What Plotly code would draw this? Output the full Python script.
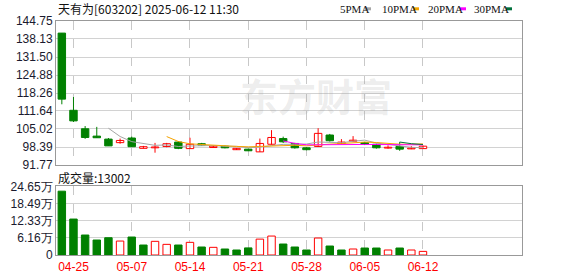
import plotly.graph_objects as go

# ---------------- data ----------------
dates = ["04-24", "04-25", "04-28", "04-29", "04-30", "05-06", "05-07", "05-08",
         "05-09", "05-12", "05-13", "05-14", "05-15", "05-16", "05-19", "05-20",
         "05-21", "05-22", "05-23", "05-26", "05-27", "05-28", "05-29", "05-30",
         "06-03", "06-04", "06-05", "06-06", "06-09", "06-10", "06-11", "06-12"]
opens = [140.3, 111.9, 105.1, 102.4, 101.3, 100.0, 101.7, 97.9,
         98.1, 98.6, 100.2, 97.8, 99.6, 98.2, 98.7, 97.4,
         97.6, 96.6, 99.4, 101.5, 99.7, 98.1, 98.6, 102.8,
         99.6, 100.5, 100.0, 99.4, 98.0, 98.6, 97.7, 97.8]
highs = [140.3, 116.8, 106.1, 105.8, 101.7, 101.5, 102.2, 98.8,
         99.9, 99.9, 100.6, 101.8, 99.9, 98.9, 98.9, 98.0,
         97.7, 101.5, 104.6, 102.2, 99.9, 98.3, 105.3, 103.2,
         101.3, 102.4, 100.3, 99.6, 99.0, 100.2, 98.7, 98.9]
lows = [114.1, 107.6, 101.4, 101.7, 98.8, 99.6, 98.4, 97.9,
        96.3, 98.3, 97.6, 97.8, 98.8, 98.1, 97.9, 97.3,
        96.9, 96.6, 99.3, 99.9, 97.8, 97.2, 98.4, 100.4,
        99.5, 100.4, 99.1, 97.8, 97.8, 97.0, 97.6, 97.8]
closes = [116.0, 108.0, 101.9, 101.8, 98.8, 100.8, 98.5, 98.5,
          98.4, 99.6, 97.9, 99.4, 99.1, 98.7, 98.1, 97.9,
          97.0, 99.7, 101.9, 100.3, 98.1, 97.4, 103.4, 100.7,
          100.2, 100.9, 99.4, 98.1, 98.3, 97.6, 98.0, 98.7]
volumes = [229000, 129000, 71700, 53700, 62000, 50000, 64500, 35800,
           49000, 38200, 35800, 45400, 28700, 27500, 21500, 17900,
           25500, 57000, 68000, 39400, 28700, 17900, 60900, 32200,
           17900, 21500, 25000, 25000, 17900, 25000, 17900, 13002]
vol_up = [0, 0, 0, 0, 0, 1, 0, 0, 1, 1, 0, 1, 0, 1, 0, 0,
          0, 1, 1, 0, 0, 0, 1, 0, 0, 1, 0, 0, 1, 0, 1, 1]

price_ticks = [91.77, 98.39, 105.02, 111.64, 118.26, 124.88, 131.50, 138.13, 144.75]
vol_ticks = [0, 61625, 123250, 184875, 246500]
vol_tick_labels = ["0", "6.16万", "12.33万", "18.49万", "24.65万"]
date_ticks = ["04-25", "05-07", "05-14", "05-21", "05-28", "06-05", "06-12"]

ma_periods = [5, 10, 20, 30]
ma_names = ["5PMA", "10PMA", "20PMA", "30PMA"]
ma_colors = ["#a6a6a6", "#f5a300", "#ff00ff", "#00703c"]

title_text = "天有为[603202] 2025-06-12 11:30"
vol_label = "成交量:13002"
watermark = "东方财富"
n_slots = 40

# ---------------- styling ----------------
RED = "#ff0000"
GREEN = "#008000"
W, H = 578, 276
ML, MR, MT, MB = 56, 56, 21, 21
PW, PH = W - ML - MR, H - MT - MB


def px(x):
    return (x - ML) / PW


def py(y):
    return (H - MB - y) / PH


xs = list(range(len(dates)))
up = [c >= o for o, c in zip(opens, closes)]

fig = go.Figure()

# wicks
for flag, col in [(True, RED), (False, GREEN)]:
    wx, wy = [], []
    for i in xs:
        if up[i] == flag:
            wx += [i, i, None]
            wy += [lows[i], highs[i], None]
    fig.add_trace(go.Scatter(x=wx, y=wy, mode="lines", line=dict(color=col, width=1),
                             xaxis="x2", yaxis="y2", hoverinfo="skip"))

# bodies
fig.add_trace(go.Bar(
    x=xs,
    base=[min(o, c) for o, c in zip(opens, closes)],
    y=[max(abs(c - o), 0.12) for o, c in zip(opens, closes)],
    width=0.64,
    marker=dict(color=["white" if u else GREEN for u in up],
                line=dict(color=[RED if u else GREEN for u in up], width=1)),
    xaxis="x2", yaxis="y2"))

# moving averages
for p, col in zip(ma_periods, ma_colors):
    mx, my = [], []
    for i in range(p - 1, len(closes)):
        mx.append(i)
        my.append(sum(closes[i - p + 1:i + 1]) / p)
    fig.add_trace(go.Scatter(x=mx, y=my, mode="lines", line=dict(color=col, width=1),
                             xaxis="x2", yaxis="y2", hoverinfo="skip"))

# volume
fig.add_trace(go.Bar(
    x=xs, y=volumes, width=0.64,
    marker=dict(color=["white" if u else GREEN for u in vol_up],
                line=dict(color=[RED if u else GREEN for u in vol_up], width=1)),
    xaxis="x", yaxis="y"))

tickvals_x = [dates.index(d) for d in date_ticks]
axis_common = dict(showline=True, mirror=True, linecolor="#999999", linewidth=1,
                   zeroline=False, ticks="", automargin=False)
font_ticks = dict(family="Liberation Sans, Arial", size=12, color="#1a1a2e")

fig.update_layout(
    width=W, height=H,
    margin=dict(l=ML, r=MR, t=MT, b=MB, autoexpand=False),
    paper_bgcolor="white", plot_bgcolor="white",
    showlegend=False, barmode="overlay",
    xaxis=dict(domain=[0, 1], anchor="y", range=[-0.5, n_slots - 0.5],
               tickvals=tickvals_x, ticktext=date_ticks,
               tickfont=dict(family="Liberation Sans, Arial", size=12, color=RED),
               showgrid=True, gridcolor="#c8c8c8", griddash="dash", gridwidth=1,
               ticklabelstandoff=1, **axis_common),
    xaxis2=dict(domain=[0, 1], anchor="y2", matches="x", range=[-0.5, n_slots - 0.5],
                tickvals=tickvals_x, showticklabels=False,
                showgrid=True, gridcolor="#c8c8c8", griddash="dash", gridwidth=1,
                **axis_common),
    yaxis=dict(domain=[0, (H - MB - 186.3) / PH], range=[vol_ticks[0], vol_ticks[-1]],
               tickvals=vol_ticks, ticktext=vol_tick_labels, tickfont=font_ticks,
               showgrid=True, gridcolor="#d2d2d2", **axis_common),
    yaxis2=dict(domain=[(H - MB - 165) / PH, 1], range=[price_ticks[0], price_ticks[-1]],
                tickvals=price_ticks, ticktext=[f"{v:.2f}" for v in price_ticks],
                tickfont=font_ticks, showgrid=True, gridcolor="#d2d2d2", **axis_common),
)

ann = []
ann.append(dict(x=px(56), y=py(8.5), xref="paper", yref="paper", text=title_text,
                showarrow=False, xanchor="left", yanchor="middle",
                font=dict(family="Noto Sans CJK SC", size=12, color="#111111")))
ann.append(dict(x=px(56), y=py(177.5), xref="paper", yref="paper", text=vol_label,
                showarrow=False, xanchor="left", yanchor="middle",
                font=dict(family="Noto Sans CJK SC", size=12, color="#111111")))
ann.append(dict(x=px(316), y=py(94), xref="paper", yref="paper", text="<b>" + watermark + "</b>",
                showarrow=False, xanchor="center", yanchor="middle",
                font=dict(family="Noto Sans CJK SC", size=38, color="rgba(150,150,150,0.18)")))

legend_x = [338, 380, 426, 472]
square_x = [365, 413, 460, 506]
shapes = []
for name, col, lx, sx in zip(ma_names, ma_colors, legend_x, square_x):
    ann.append(dict(x=px(lx), y=py(9), xref="paper", yref="paper", text=name,
                    showarrow=False, xanchor="left", yanchor="middle",
                    font=dict(family="Liberation Serif", size=11, color="#111111")))
    shapes.append(dict(type="rect", xref="paper", yref="paper",
                       x0=px(sx), x1=px(sx + 6), y0=py(10.3), y1=py(7.3),
                       fillcolor=col, line=dict(width=0)))

fig.update_layout(annotations=ann, shapes=shapes)

fig.write_html("out.html")
